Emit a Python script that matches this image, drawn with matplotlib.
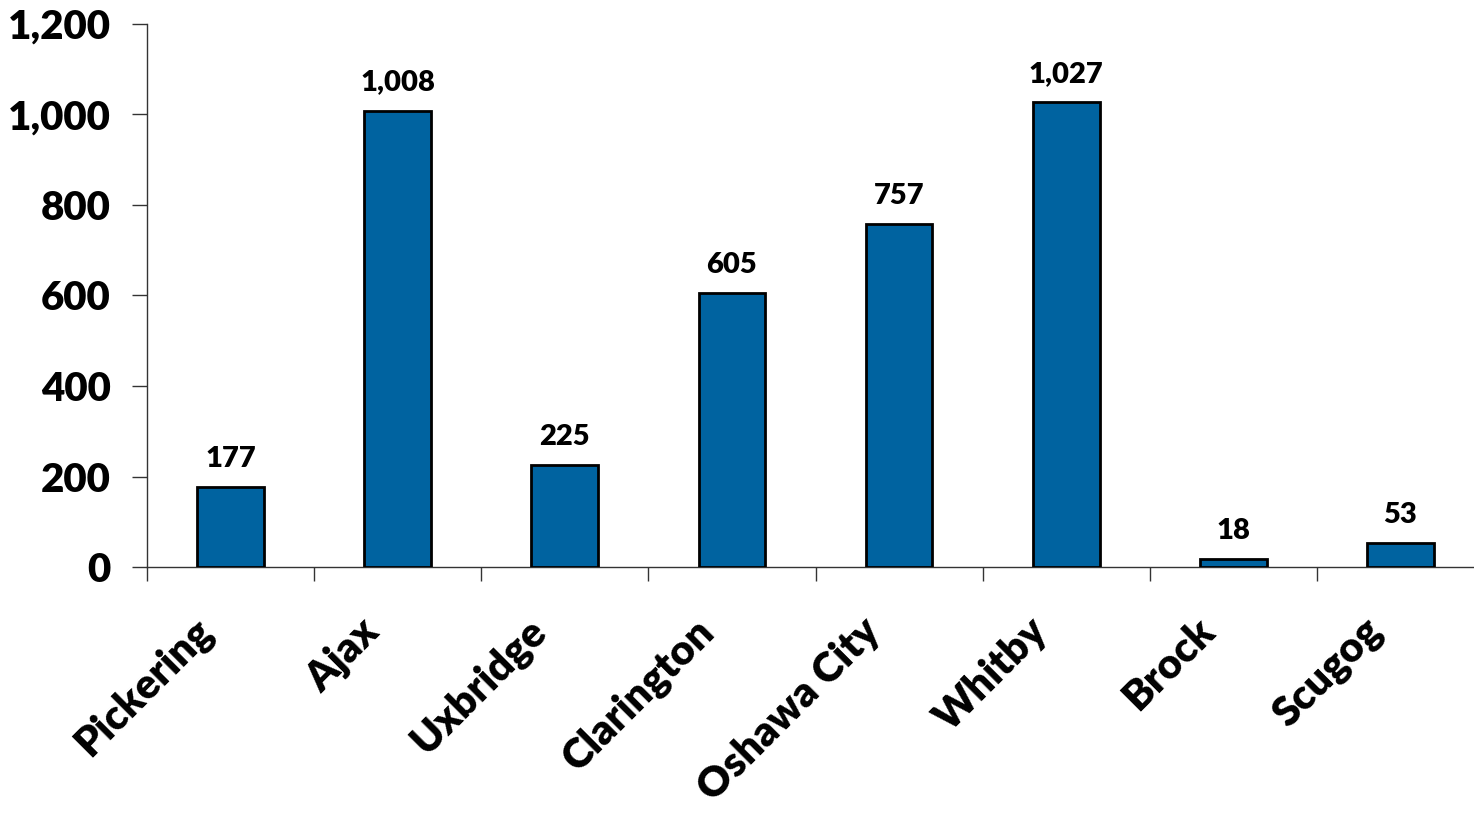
import matplotlib.pyplot as plt
import matplotlib.transforms as mtransforms
import numpy as np

towns = ['Pickering', 'Ajax', 'Uxbridge', 'Clarington', 'Oshawa City',
         'Whitby', 'Brock', 'Scugog']
counts = [177, 1008, 225, 605, 757, 1027, 18, 53]
yticks = [0, 200, 400, 600, 800, 1000, 1200]

plt.rcParams['font.family'] = ['Lato', 'DejaVu Sans']

fig = plt.figure(figsize=(14.74, 8.13), dpi=100)
# axes run slightly past the right edge, like the original
ax = fig.add_axes([147 / 1474, 1 - 567 / 813, 1337 / 1474, 543 / 813])

x = np.arange(len(towns))
bars = ax.bar(x, counts, width=0.4, color='#0063a0', edgecolor='black',
              linewidth=2, zorder=3)

for b, v in zip(bars, counts):
    ax.annotate(f'{v:,}', (b.get_x() + b.get_width() / 2, v),
                xytext=(0, 11), textcoords='offset points',
                ha='center', va='bottom', fontsize=21, fontweight='heavy')

ax.set_xlim(-0.5, len(towns) - 0.5)
ax.set_ylim(0, 1200)
ax.set_yticks(yticks)
ax.set_yticklabels([f'{t:,}' for t in yticks], fontsize=29, fontweight='heavy')

ax.set_xticks(x)
ax.set_xticklabels(towns, rotation=45, ha='right', rotation_mode='anchor',
                   fontsize=30, fontweight='heavy')
ax.set_xticks(np.arange(len(towns) + 1) - 0.5, minor=True)
ax.tick_params(axis='x', which='major', length=0, pad=32)
ax.tick_params(axis='x', which='minor', length=10, width=1, color='#333333',
               direction='out')
ax.tick_params(axis='y', length=11, width=1, color='#333333', pad=15)

# nudge the slanted names left so they end under the bar
shift = mtransforms.ScaledTranslation(-38 / 100, 0, fig.dpi_scale_trans)
for lab in ax.get_xticklabels():
    lab.set_transform(lab.get_transform() + shift)

for s in ['top', 'right']:
    ax.spines[s].set_visible(False)
for s in ['left', 'bottom']:
    ax.spines[s].set_color('#333333')
    ax.spines[s].set_linewidth(1)

fig.savefig('out.png', dpi=100)
